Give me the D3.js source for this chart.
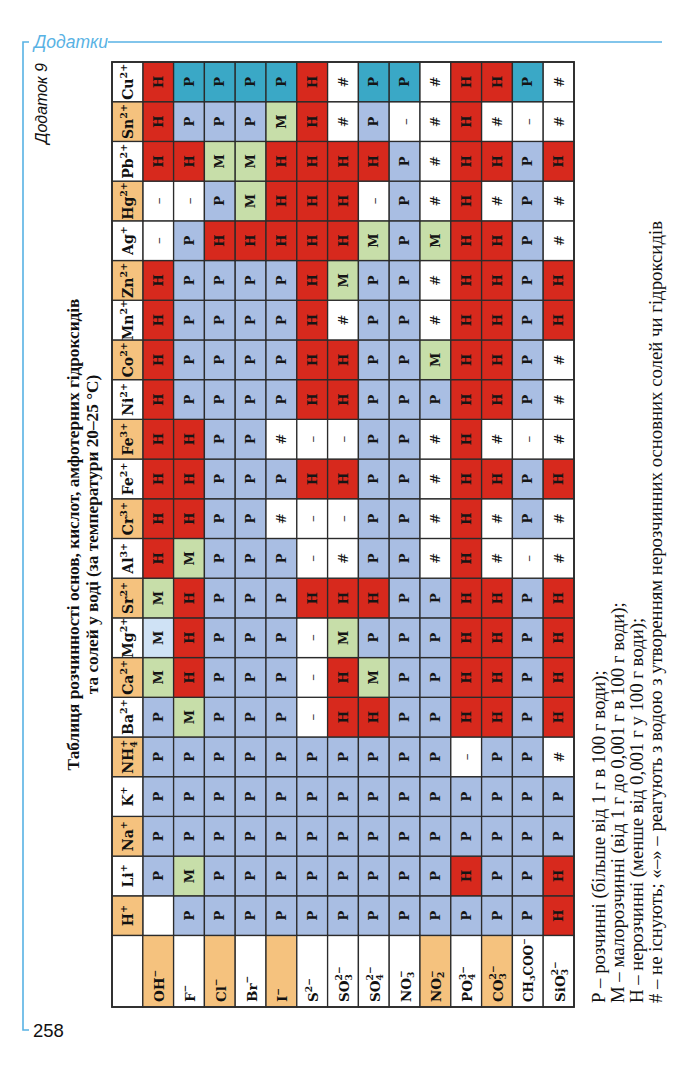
<!DOCTYPE html>
<html><head><meta charset="utf-8">
<script src="https://cdn.jsdelivr.net/npm/d3@7"></script>
<style>body{margin:0;background:#fff}svg{display:block}</style>
</head><body>
<script>
// ---------- DATA ----------
const cationBase = ["H","Li","Na","K","NH","Ba","Ca","Mg","Sr","Al","Cr","Fe","Fe","Ni","Co","Mn","Zn","Ag","Hg","Pb","Sn","Cu"];
const cationSub  = ["","","","","4","","","","","","","","","","","","","","","","",""];
const cationSup  = ["+","+","+","+","+","2+","2+","2+","2+","3+","3+","2+","3+","2+","2+","2+","2+","+","2+","2+","2+","2+"];

const anionBase = ["OH","F","Cl","Br","I","S","SO","SO","NO","NO","PO","CO","CH","SiO"];
const anionSub  = ["","","","","","","3","4","3","2","4","3","3","3"];
const anionTail = ["","","","","","","","","","","","","COO",""];
const anionSup  = ["−","−","−","−","−","2−","2−","2−","−","−","3−","2−","−","2−"];
const anionHighlighted = [0,2,4,9,11];

// solubility rows (cation order as above), columns in anion order
const solubility = [
  ["", "Р","Р","Р","Р","Р","Р","Р","Р","Р","Р","Р","Р","Н"], // H+
  ["Р","М","Р","Р","Р","Р","Р","Р","Р","Р","Н","Р","Р","Н"], // Li+
  ["Р","Р","Р","Р","Р","Р","Р","Р","Р","Р","Р","Р","Р","Р"], // Na+
  ["Р","Р","Р","Р","Р","Р","Р","Р","Р","Р","Р","Р","Р","Р"], // K+
  ["Р","Р","Р","Р","Р","Р","Р","Р","Р","Р","–","Р","Р","#"], // NH4+
  ["Р","М","Р","Р","Р","–","Н","Н","Р","Р","Н","Н","Р","Н"], // Ba2+
  ["М","Н","Р","Р","Р","–","Н","М","Р","Р","Н","Н","Р","Н"], // Ca2+
  ["М","Н","Р","Р","Р","–","М","Р","Р","Р","Н","Н","Р","Н"], // Mg2+
  ["М","Н","Р","Р","Р","Н","Н","Н","Р","Р","Н","Н","Р","Н"], // Sr2+
  ["Н","М","Р","Р","Р","–","#","Р","Р","#","Н","#","–","#"], // Al3+
  ["Н","Н","Р","Р","#","–","–","Р","Р","#","Н","#","Р","#"], // Cr3+
  ["Н","Н","Р","Р","Р","Н","Н","Р","Р","#","Н","Н","Р","Н"], // Fe2+
  ["Н","Н","Р","Р","#","–","–","Р","Р","#","Н","#","–","#"], // Fe3+
  ["Н","Р","Р","Р","Р","Н","Н","Р","Р","Р","Н","Н","Р","#"], // Ni2+
  ["Н","Р","Р","Р","Р","Н","Н","Р","Р","М","Н","Н","Р","#"], // Co2+
  ["Н","Р","Р","Р","Р","Н","#","Р","Р","#","Н","Н","Р","Н"], // Mn2+
  ["Н","Р","Р","Р","Р","Н","М","Р","Р","#","Н","Н","Р","Н"], // Zn2+
  ["–","Р","Н","Н","Н","Н","Н","М","Р","М","Н","Н","Р","#"], // Ag+
  ["–","–","Р","М","Н","Н","Н","–","Р","#","Н","#","Р","#"], // Hg2+
  ["Н","Н","М","М","Н","Н","Н","Н","Р","#","Н","Н","Р","Н"], // Pb2+
  ["Н","Р","Р","Р","М","Н","#","Р","–","#","Н","#","–","#"], // Sn2+
  ["Н","Р","Р","Р","Р","Н","#","Р","Р","#","Н","Н","Р","#"]  // Cu2+
];

const titleLines = [
  "Таблиця розчинності основ, кислот, амфотерних гідроксидів",
  "та солей у воді (за температури 20–25 °С)"
];
const legendLines = [
  "Р – розчинні (більше від 1 г в 100 г води);",
  "М – малорозчинні (від 1 г до 0,001 г в 100 г води);",
  "Н – нерозчинні (менше від 0,001 г у 100 г води);",
  "# – не існують; «–» – реагують з водою з утворенням нерозчинних основних солей чи гідроксидів"
];
const headerText = "Додатки";
const appendixText = "Додаток 9";
const pageNumber = "258";

// ---------- LAYOUT ----------
const W = 695, H = 1066;
const T = {left:112, right:574, top:62, rowsBottom:935.5, bottom:1007};
const C = {
  P:"#a9bee3", Pcu:"#3aa8c6", N:"#d7291d", M:"#c7dea9", Mlight:"#cfe2f5",
  label:"#f5c27e", border:"#2b2b2b", blue:"#58b2e4"
};
const serif = "'DejaVu Serif', serif";

const svg = d3.select("body").append("svg").attr("width", W).attr("height", H);

const cationKeys = cationBase.map((b,i)=>b+cationSub[i]+cationSup[i]);
const anionKeys = anionBase.map((b,i)=>b+anionSub[i]+anionTail[i]+anionSup[i]);

const x = d3.scaleBand().domain(["__label", ...anionKeys]).range([T.left, T.right]).padding(0);
const y = d3.scaleBand().domain(cationKeys.slice().reverse()).range([T.top, T.rowsBottom]).padding(0);

function cellFill(v, ci, ai) {
  if (v === "Р") return cationKeys[ci] === "Cu2+" ? C.Pcu : C.P;
  if (v === "Н") return C.N;
  if (v === "М") return (cationKeys[ci] === "Mg2+" && ai === 0) ? C.Mlight : C.M;
  return "#ffffff";
}

function chem(text, base, sub, tail, sup, fs) {
  text.append("tspan").text(base);
  let subT = null;
  const dSub = 0.3*fs, dSup = 0.42*fs;
  if (sub) subT = text.append("tspan").attr("dy", dSub).attr("font-size", fs*0.68).text(sub);
  if (tail) text.append("tspan").attr("dy", -dSub).attr("font-size", fs).text(tail);
  if (sup) {
    const sp = text.append("tspan").attr("font-size", fs*0.68).text(sup);
    if (sub && !tail) {
      sp.attr("dy", -dSub - dSup).attr("dx", -subT.node().getComputedTextLength());
    } else sp.attr("dy", -dSup);
  }
}

function rotText(g, px, py, anchor) {
  return g.append("text")
    .attr("transform", `translate(${px},${py}) rotate(-90)`)
    .attr("text-anchor", anchor)
    .attr("dominant-baseline", "central");
}

const table = svg.append("g");

// cells
solubility.forEach((row, ci) => {
  row.forEach((v, ai) => {
    const ak = anionKeys[ai], ck = cationKeys[ci];
    table.append("rect")
      .attr("x", x(ak)).attr("y", y(ck))
      .attr("width", x.bandwidth()).attr("height", y.bandwidth())
      .attr("fill", cellFill(v, ci, ai))
      .attr("stroke", C.border).attr("stroke-width", 1.3);
    if (v) {
      const bold = (v === "Р" || v === "Н" || v === "М");
      rotText(table, x(ak) + x.bandwidth()/2, y(ck) + y.bandwidth()/2, "middle")
        .attr("font-family", serif)
        .attr("font-weight", bold ? "bold" : "normal")
        .attr("font-size", bold ? 13 : 13.5)
        .attr("fill", "#151515")
        .text(v);
    }
  });
});

// cation labels
cationKeys.forEach((ck, ci) => {
  table.append("rect")
    .attr("x", x("__label")).attr("y", y(ck))
    .attr("width", x.bandwidth()).attr("height", y.bandwidth())
    .attr("fill", ci % 2 === 0 ? C.label : "#fff")
    .attr("stroke", C.border).attr("stroke-width", 1.3);
  const t = rotText(table, x("__label") + x.bandwidth()/2 + 1, y(ck) + y.bandwidth()/2, "middle")
    .attr("font-family", serif).attr("font-weight", "bold").attr("font-size", 14).attr("fill", "#111");
  chem(t, cationBase[ci], cationSub[ci], "", cationSup[ci], 14);
});

// anion labels row
table.append("rect")
  .attr("x", x("__label")).attr("y", T.rowsBottom)
  .attr("width", x.bandwidth()).attr("height", T.bottom - T.rowsBottom)
  .attr("fill", "#fff").attr("stroke", C.border).attr("stroke-width", 1.3);
anionKeys.forEach((ak, ai) => {
  table.append("rect")
    .attr("x", x(ak)).attr("y", T.rowsBottom)
    .attr("width", x.bandwidth()).attr("height", T.bottom - T.rowsBottom)
    .attr("fill", anionHighlighted.includes(ai) ? C.label : "#fff")
    .attr("stroke", C.border).attr("stroke-width", 1.3);
  const fs = anionTail[ai] ? 12 : 13.5;
  const t = rotText(table, x(ak) + x.bandwidth()/2 + 1, T.bottom - 5, "start")
    .attr("font-family", serif).attr("font-weight", "bold").attr("font-size", fs).attr("fill", "#111");
  chem(t, anionBase[ai], anionSub[ai], anionTail[ai], anionSup[ai], fs);
});

// outer border
table.append("rect")
  .attr("x", T.left).attr("y", T.top)
  .attr("width", T.right - T.left).attr("height", T.bottom - T.top)
  .attr("fill", "none").attr("stroke", C.border).attr("stroke-width", 1.8);

// title
const titleX = [73, 92];
const titleSizeBase = 15;
titleLines.forEach((s, i) => {
  rotText(svg, titleX[i], (T.top + T.bottom)/2, "middle")
    .attr("class", "title")
    .attr("font-family", "'Liberation Serif', serif").attr("font-weight", "bold")
    .attr("font-size", titleSizeBase).attr("fill", "#111").text(s);
});
{
  const n = svg.select(".title").node();
  const len = n.getComputedTextLength();
  const fs = titleSizeBase * 472 / len;
  svg.selectAll(".title").attr("font-size", fs);
}

// legend
const legendX = [598, 617, 636, 655];
const legSizeBase = 16;
const legNodes = legendLines.map((s, i) =>
  rotText(svg, legendX[i], 1003, "start")
    .attr("class", "legend")
    .attr("font-family", "'Liberation Serif', serif")
    .attr("font-size", legSizeBase).attr("fill", "#111").text(s));
{
  const len = legNodes[3].node().getComputedTextLength();
  svg.selectAll(".legend").attr("font-size", legSizeBase * 782 / len);
}

// page decorations
svg.append("text").attr("x", 34).attr("y", 48)
  .attr("font-family", "'Liberation Sans', Arial, sans-serif").attr("font-style", "italic")
  .attr("font-size", 17.5).attr("fill", C.blue).text(headerText);
svg.append("line").attr("x1", 108).attr("x2", 662).attr("y1", 42).attr("y2", 42)
  .attr("stroke", C.blue).attr("stroke-width", 1.6);
svg.append("path").attr("d", "M29,42 H23 V1030 H29")
  .attr("fill", "none").attr("stroke", C.blue).attr("stroke-width", 1.6);
rotText(svg, 41, 63, "end")
  .attr("font-family", "'Liberation Sans', Arial, sans-serif").attr("font-style", "italic")
  .attr("font-size", 16).attr("fill", "#111").text(appendixText);
svg.append("text").attr("x", 33).attr("y", 1037)
  .attr("font-family", "'Liberation Sans', Arial, sans-serif")
  .attr("font-size", 18.5).attr("fill", "#111").text(pageNumber);
</script>
</body></html>
